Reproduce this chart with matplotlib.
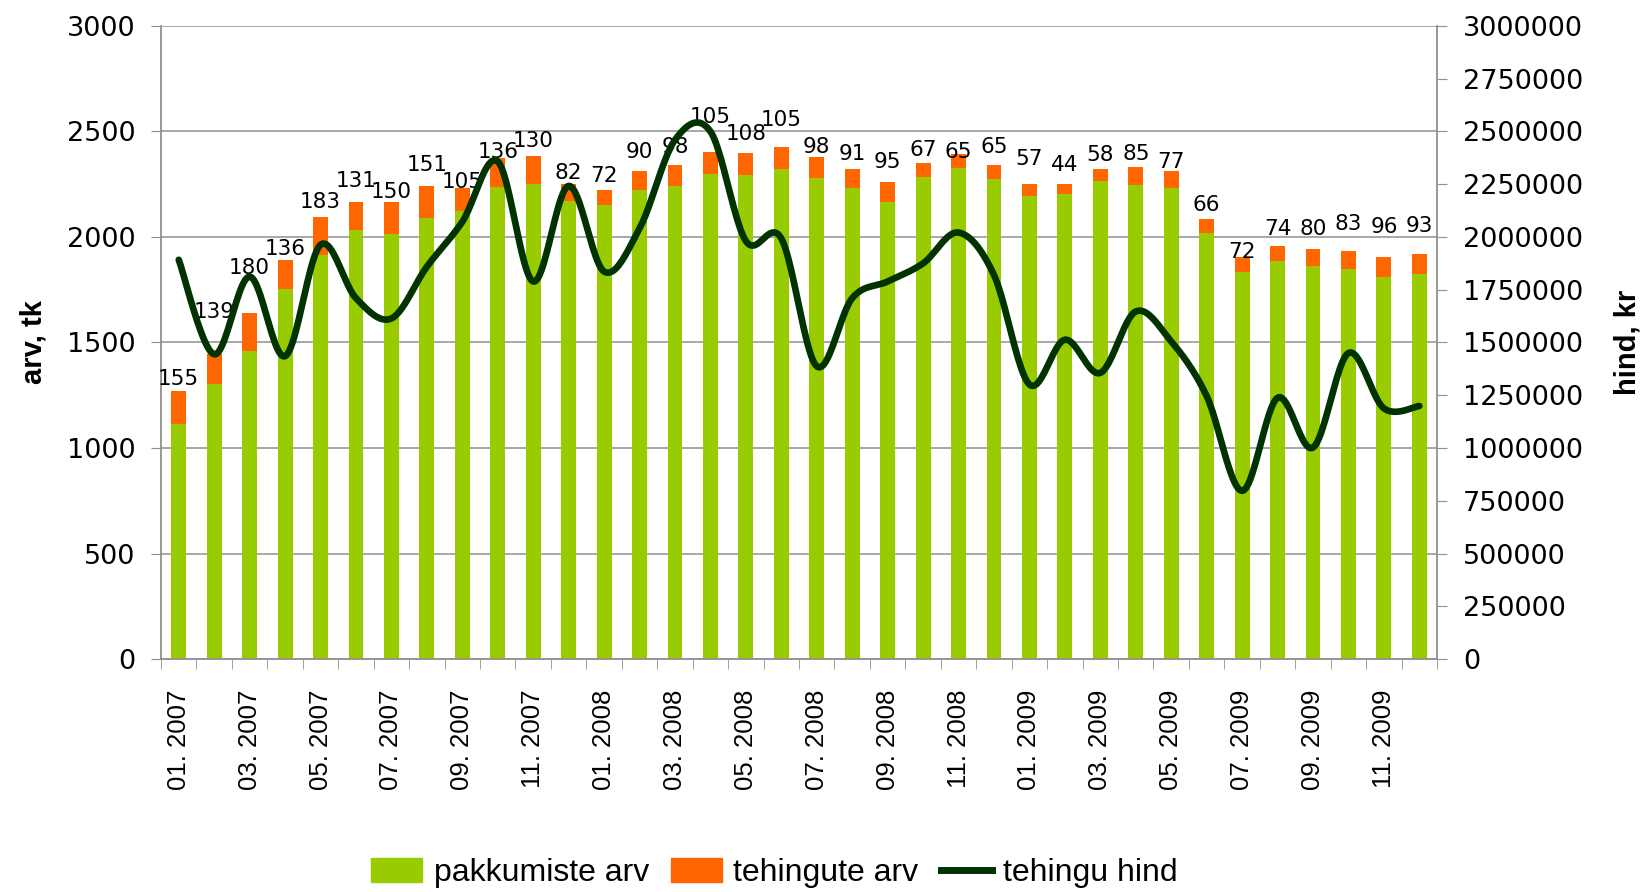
import numpy as np
import matplotlib
matplotlib.use("Agg")
import matplotlib.pyplot as plt
from matplotlib.ticker import FuncFormatter, FixedLocator
from matplotlib.patches import Patch
from matplotlib.lines import Line2D

# andmed
months = [f"{m:02d}. {y}" for y in (2007, 2008, 2009) for m in range(1, 13)]
pakkumiste_arv = [1114, 1305, 1458, 1753, 1913, 2035, 2016, 2091, 2125, 2236, 2252, 2170,
                  2150, 2222, 2243, 2300, 2292, 2322, 2280, 2231, 2165, 2282, 2326, 2277,
                  2196, 2205, 2263, 2246, 2234, 2020, 1835, 1885, 1864, 1850, 1810, 1825]
tehingute_arv = [155, 139, 180, 136, 183, 131, 150, 151, 105, 136, 130, 82,
                 72, 90, 98, 105, 108, 105, 98, 91, 95, 67, 65, 65,
                 57, 44, 58, 85, 77, 66, 72, 74, 80, 83, 96, 93]
tehingu_hind = [1892000, 1444000, 1812000, 1435000, 1963000, 1710000, 1614000, 1859000,
                2072000, 2358000, 1789000, 2242000, 1836000, 2040000, 2460000, 2500000,
                1981000, 1993000, 1387000, 1710000, 1789000, 1875000, 2021000, 1820000,
                1301000, 1513000, 1356000, 1647000, 1505000, 1246000, 797000, 1238000,
                1002000, 1450000, 1188000, 1199000]

# sildi vahe tulba kohal (px)
label_gap = [6, 36, 39, 5, 9, 15, 4, 15, 0, 0, 9, 5, 8, 13, 12, 29, 13, 21, 4, 9, 14, 7, -4, 12,
             19, 13, 8, 7, 3, 8, -1, 11, 14, 21, 24, 22]

GREEN = '#99CC00'
ORANGE = '#FF6600'
LINE = '#003300'
GRID = '#A0A0A0'
SANS = ['Liberation Sans', 'DejaVu Sans']


def smooth(xv, yv, n=24):
    # Excel-laadne silutud joon (Catmull-Rom)
    p = np.column_stack([xv, yv]).astype(float)
    p = np.vstack([p[0], p, p[-1]])
    out = []
    t = np.linspace(0, 1, n, endpoint=False)[:, None]
    for i in range(1, len(p) - 2):
        p0, p1, p2, p3 = p[i - 1], p[i], p[i + 1], p[i + 2]
        seg = 0.5 * ((2 * p1) + (-p0 + p2) * t + (2 * p0 - 5 * p1 + 4 * p2 - p3) * t ** 2
                     + (-p0 + 3 * p1 - 3 * p2 + p3) * t ** 3)
        out.append(seg)
    out.append(p[-2][None, :])
    out = np.vstack(out)
    return out[:, 0], out[:, 1]


fig = plt.figure(figsize=(16.48, 8.92), dpi=100)
ax = fig.add_axes([0.0977, 0.2612, 0.7743, 0.7097])
x = np.arange(len(months))
green = np.array(pakkumiste_arv)
orange = np.array(tehingute_arv)

ax.bar(x, green, width=0.42, color=GREEN, zorder=2)
ax.bar(x, orange, bottom=green, width=0.42, color=ORANGE, zorder=2)

for i in range(len(x)):
    ax.annotate(str(orange[i]), (x[i], green[i] + orange[i]),
                xytext=(0, label_gap[i] * 0.72), textcoords='offset points',
                ha='center', va='baseline', fontsize=15.5, color='black', zorder=5)

ax.set_xlim(-0.5, len(x) - 0.5)
ax.set_ylim(0, 3000)
ax.set_yticks(range(0, 3001, 500))
ax.yaxis.grid(True, color=GRID, lw=1.3)
ax.set_axisbelow(True)

ax.set_xticks(x[::2])
ax.set_xticklabels(months[::2], rotation=90, family=SANS, fontsize=18.5)
ax.xaxis.set_minor_locator(FixedLocator(np.arange(-0.5, len(x), 1)))
ax.tick_params(axis='x', which='major', length=0, pad=22)
ax.tick_params(axis='x', which='minor', length=7.5, color='#909090', direction='out')
ax.tick_params(axis='y', length=7.5, color='#909090', labelsize=19.5, pad=11)

for s in ['top', 'right']:
    ax.spines[s].set_visible(False)
for s in ['left', 'bottom']:
    ax.spines[s].set_color('#909090')
    ax.spines[s].set_linewidth(1.3)

ax.set_ylabel('arv, tk', fontsize=21, fontweight='bold', family=SANS)
ax.yaxis.set_label_coords(-0.089, 0.5)

ax2 = ax.twinx()
ax2.set_ylim(0, 3000000)
ax2.set_yticks(range(0, 3000001, 250000))
ax2.yaxis.set_major_formatter(FuncFormatter(lambda v, p: f'{int(v)}'))
ax2.tick_params(axis='y', length=7.5, color='#909090', labelsize=19.5, pad=11)
for s in ['top', 'left', 'bottom']:
    ax2.spines[s].set_visible(False)
ax2.spines['right'].set_color('#909090')
ax2.spines['right'].set_linewidth(1.3)

sx, sy = smooth(x, tehingu_hind)
ax2.plot(sx, sy, color=LINE, lw=4.8, solid_capstyle='round', zorder=4)

ax2.set_ylabel('hind, kr', fontsize=21, fontweight='bold', family=SANS, rotation=90)
ax2.yaxis.set_label_coords(1.138, 0.5)

handles = [Patch(color=GREEN), Patch(color=ORANGE), Line2D([], [], color=LINE, lw=5)]
fig.legend(handles, ['pakkumiste arv', 'tehingute arv', 'tehingu hind'],
           loc='center', bbox_to_anchor=(0.470, 0.021), ncol=3, frameon=False,
           prop={'family': SANS, 'size': 23}, handlelength=1.6, handleheight=0.75,
           handletextpad=0.35, columnspacing=0.7)

fig.savefig('out.png', dpi=100)
